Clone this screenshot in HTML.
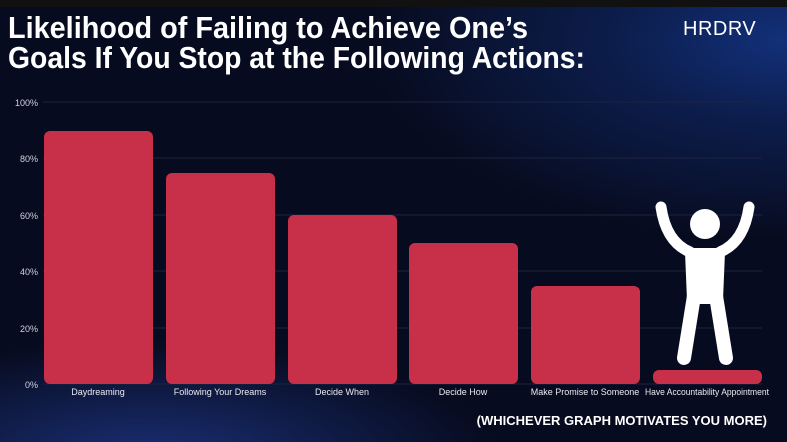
<!DOCTYPE html><html><head><style>
body{margin:0;width:787px;height:442px;overflow:hidden;font-family:"Liberation Sans",sans-serif;}
.bg{position:absolute;left:0;top:0;width:787px;height:442px;background:radial-gradient(ellipse 420px 200px at 787px 40px,#12307a 0%,rgba(18,48,122,0.5) 40%,rgba(0,0,0,0) 100%),radial-gradient(ellipse 350px 120px at 150px 460px,#1a2f75 0%,rgba(26,47,117,0) 100%),#070b1f;}
</style></head><body><div class="bg"></div>
<svg width="787" height="442" style="position:absolute;left:0;top:0" font-family="Liberation Sans, sans-serif">
<rect x="0" y="0" width="787" height="7" fill="#111"/>
<text x="8" y="38" fill="#fff" font-size="31" font-weight="bold" textLength="520" lengthAdjust="spacingAndGlyphs">Likelihood of Failing to Achieve One’s</text>
<text x="8" y="68" fill="#fff" font-size="31" font-weight="bold" textLength="577" lengthAdjust="spacingAndGlyphs">Goals If You Stop at the Following Actions:</text>
<text x="683" y="35" fill="#fff" font-size="20" letter-spacing="0.5">HRDRV</text>
<g stroke="#1c2340" stroke-width="1">
<line x1="43" y1="102" x2="762" y2="102"/><line x1="43" y1="158" x2="762" y2="158"/><line x1="43" y1="215" x2="762" y2="215"/><line x1="43" y1="271" x2="762" y2="271"/><line x1="43" y1="328" x2="762" y2="328"/><line x1="43" y1="384" x2="762" y2="384"/>
</g>
<g fill="#d0d3dc" font-size="9" text-anchor="end">
<text x="38" y="106">100%</text><text x="38" y="162">80%</text><text x="38" y="219">60%</text><text x="38" y="275">40%</text><text x="38" y="332">20%</text><text x="38" y="388">0%</text>
</g>
<g fill="#c8304a">
<rect x="44" y="131" width="109" height="253" rx="6"/>
<rect x="166" y="173" width="109" height="211" rx="6"/>
<rect x="288" y="215" width="109" height="169" rx="6"/>
<rect x="409" y="243" width="109" height="141" rx="6"/>
<rect x="531" y="286" width="109" height="98" rx="6"/>
<rect x="653" y="370" width="109" height="14" rx="6"/>
</g>
<g fill="#e8eaf0" font-size="9" text-anchor="middle">
<text x="98" y="395">Daydreaming</text><text x="220" y="395">Following Your Dreams</text><text x="342" y="395">Decide When</text><text x="463" y="395">Decide How</text><text x="585" y="395">Make Promise to Someone</text><text x="707" y="395" textLength="124" lengthAdjust="spacingAndGlyphs">Have Accountability Appointment</text>
</g>
<text x="767" y="425" fill="#fff" font-size="13" font-weight="bold" text-anchor="end">(WHICHEVER GRAPH MOTIVATES YOU MORE)</text>
<g fill="none" stroke="#fff" stroke-linecap="round" stroke-linejoin="round">
<circle cx="705" cy="224" r="15" fill="#fff" stroke="none"/>
<path d="M661 207 Q666 242 690 252 M749 207 Q744 242 720 252" stroke-width="11"/>
<path d="M689 252 L721 252 L719 300 L691 300 Z" fill="#fff" stroke-width="8"/>
<path d="M694 296 L684 358 M716 296 L726 358" stroke-width="14"/>
</g>
</svg></body></html>
